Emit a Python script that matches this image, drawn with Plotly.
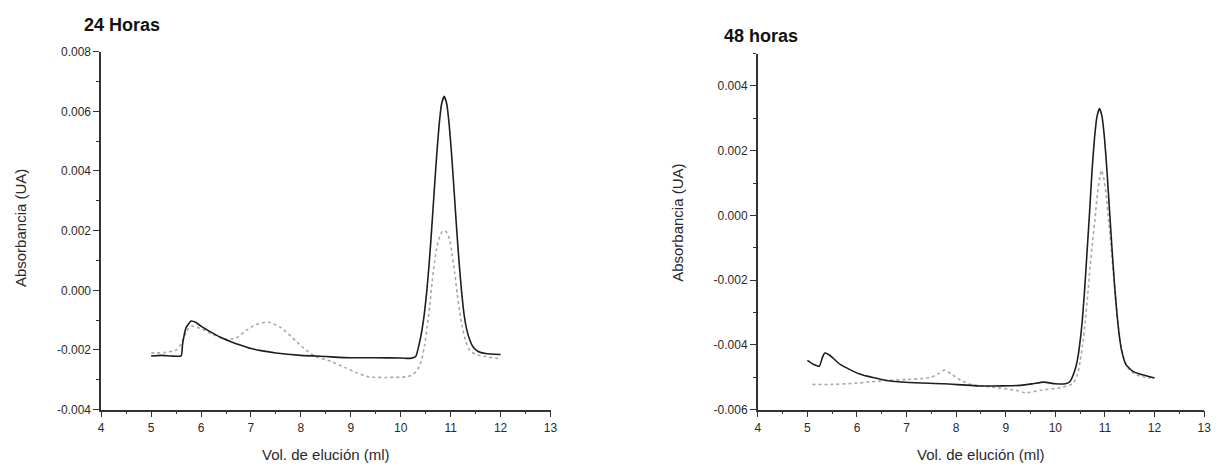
import plotly.graph_objects as go

# ---------------- data: 24 horas ----------------
x24_solid = [5.0, 5.2, 5.4, 5.6, 5.63, 5.7, 5.8, 5.9, 6.0, 6.2, 6.4, 6.6, 6.8, 7.0, 7.2, 7.5, 8.0,
             8.5, 9.0, 9.5, 10.0, 10.2, 10.3, 10.37, 10.42, 10.47, 10.52, 10.57, 10.62, 10.67, 10.72,
             10.77, 10.82, 10.87, 10.92, 10.97, 11.02, 11.07, 11.12, 11.17, 11.22, 11.27, 11.32,
             11.38, 11.45, 11.55, 11.7, 12.0]
y24_solid = [-0.00220, -0.00218, -0.00220, -0.00220, -0.00180, -0.00125, -0.00103, -0.00108, -0.00120,
             -0.00140, -0.00158, -0.00172, -0.00184, -0.00195, -0.00202, -0.00210, -0.00218,
             -0.00222, -0.00226, -0.00226, -0.00227, -0.00228, -0.00222, -0.00180, -0.00138, -0.00082,
             -0.00006, 0.00091, 0.00206, 0.00331, 0.00453, 0.00556, 0.00626, 0.00650, 0.00626,
             0.00556, 0.00453, 0.00331, 0.00206, 0.00091, -0.00006, -0.00082, -0.00130, -0.00165,
             -0.00190, -0.00205, -0.00212, -0.00215]

x24_dot = [5.0, 5.3, 5.5, 5.6, 5.7, 5.8, 6.0, 6.2, 6.5, 6.7, 6.9, 7.1, 7.35, 7.6, 7.9, 8.1, 8.3, 8.6,
           8.9, 9.1, 9.35, 9.7, 10.1, 10.25, 10.35, 10.42, 10.48, 10.53, 10.58, 10.63, 10.68, 10.73,
           10.78, 10.83, 10.88, 10.93, 10.98, 11.03, 11.08, 11.13, 11.18, 11.23, 11.3, 11.38, 11.5,
           11.7, 12.0]
y24_dot = [-0.00210, -0.00208, -0.00200, -0.00180, -0.00140, -0.00120, -0.00128, -0.00145, -0.00165,
           -0.00160, -0.00135, -0.00115, -0.00107, -0.00125, -0.00170, -0.00200, -0.00222, -0.00238,
           -0.00260, -0.00275, -0.00290, -0.00292, -0.00290, -0.00282, -0.00262, -0.00232, -0.00182,
           -0.00122, -0.00052, 0.00030, 0.00100, 0.00150, 0.00180, 0.00197, 0.00200, 0.00192,
           0.00170, 0.00120, 0.00060, -0.00010, -0.00070, -0.00120, -0.00170, -0.00200, -0.00215,
           -0.00222, -0.00230]

# ---------------- data: 48 horas ----------------
x48_solid = [5.0, 5.12, 5.24, 5.3, 5.35, 5.45, 5.66, 6.05, 6.6, 7.05, 7.75, 8.52, 9.3, 9.55, 9.76,
             10.0, 10.2, 10.3, 10.39, 10.44, 10.49, 10.54, 10.59, 10.64, 10.69, 10.74, 10.79, 10.84,
             10.89, 10.94, 10.99, 11.04, 11.09, 11.14, 11.19, 11.24, 11.29, 11.34, 11.42, 11.55,
             11.7, 12.0]
y48_solid = [-0.00448, -0.00460, -0.00466, -0.00440, -0.00425, -0.00432, -0.00460, -0.00490, -0.00510,
             -0.00516, -0.00520, -0.00527, -0.00525, -0.00520, -0.00515, -0.00520, -0.00520, -0.00512,
             -0.00480, -0.00450, -0.00400, -0.00330, -0.00230, -0.00110, 0.00010, 0.00140, 0.00240,
             0.00306, 0.00330, 0.00306, 0.00240, 0.00140, 0.00020, -0.00097, -0.00207, -0.00300,
             -0.00373, -0.00420, -0.00460, -0.00480, -0.00490, -0.00502]

x48_dot = [5.1, 5.5, 6.0, 6.3, 6.6, 7.0, 7.3, 7.5, 7.65, 7.77, 7.9, 8.1, 8.3, 8.7, 9.2, 9.4, 9.7,
           10.1, 10.35, 10.45, 10.5, 10.55, 10.6, 10.65, 10.7, 10.75, 10.8, 10.85, 10.9, 10.93, 10.97,
           11.02, 11.07, 11.12, 11.17, 11.22, 11.27, 11.32, 11.38, 11.46, 11.6, 11.8, 12.0]
y48_dot = [-0.00522, -0.00522, -0.00518, -0.00514, -0.00510, -0.00507, -0.00504, -0.00500, -0.00488,
           -0.00478, -0.00490, -0.00510, -0.00522, -0.00530, -0.00540, -0.00548, -0.00540, -0.00532,
           -0.00520, -0.00490, -0.00450, -0.00400, -0.00330, -0.00250, -0.00160, -0.00080, -0.00010,
           0.00070, 0.00120, 0.00140, 0.00120, 0.00070, -0.00010, -0.00090, -0.00180, -0.00270,
           -0.00340, -0.00400, -0.00440, -0.00470, -0.00490, -0.00500, -0.00502]

x_ticks = [4, 5, 6, 7, 8, 9, 10, 11, 12, 13]
y24_ticks = [-0.004, -0.002, 0.000, 0.002, 0.004, 0.006, 0.008]
y48_ticks = [-0.006, -0.004, -0.002, 0.000, 0.002, 0.004]
titles = ["24 Horas", "48 horas"]
x_title = "Vol. de elución (ml)"
y_title = "Absorbancia (UA)"

W, H = 1228, 471
FONT = "Liberation Sans, Arial, sans-serif"
TXT = "#2a2a2a"
SOLID = "#1e1e1e"
DOT = "#a8a8a8"


def px_x(p):
    return p / W


def px_y(p):
    return 1 - p / H


fig = go.Figure()

fig.add_trace(go.Scatter(x=x24_dot, y=y24_dot, mode="lines", line=dict(color=DOT, width=1.6, dash="dot", shape="spline", smoothing=0.6),
                         xaxis="x", yaxis="y", showlegend=False))
fig.add_trace(go.Scatter(x=x24_solid, y=y24_solid, mode="lines", line=dict(color=SOLID, width=1.6, shape="spline", smoothing=0.5),
                         xaxis="x", yaxis="y", showlegend=False))
fig.add_trace(go.Scatter(x=x48_dot, y=y48_dot, mode="lines", line=dict(color=DOT, width=1.6, dash="dot", shape="spline", smoothing=0.6),
                         xaxis="x2", yaxis="y2", showlegend=False))
fig.add_trace(go.Scatter(x=x48_solid, y=y48_solid, mode="lines", line=dict(color=SOLID, width=1.6, shape="spline", smoothing=0.5),
                         xaxis="x2", yaxis="y2", showlegend=False))


def fmt(v):
    return f"{v:.3f}".replace("\u2212", "-")


axis_common = dict(showline=True, linecolor="#333", linewidth=1.5, ticks="outside", ticklen=6,
                   tickwidth=1.3, tickcolor="#333", showgrid=False, zeroline=False,
                   tickfont=dict(family=FONT, size=12, color=TXT))

fig.update_layout(
    width=W, height=H, margin=dict(l=0, r=0, t=0, b=0),
    paper_bgcolor="white", plot_bgcolor="white",
    xaxis=dict(domain=[px_x(99), px_x(552)], range=[4, 13], anchor="y", tickvals=x_ticks,
               ticktext=[str(t) for t in x_ticks],
               minor=dict(dtick=0.5, tick0=4, ticks="outside", ticklen=3, tickcolor="#333"), **axis_common),
    yaxis=dict(domain=[px_y(415), px_y(46)], range=[-0.004, 0.008], anchor="x", tickvals=y24_ticks,
               ticktext=[fmt(t) for t in y24_ticks],
               minor=dict(dtick=0.001, tick0=0, ticks="outside", ticklen=3, tickcolor="#333"), **axis_common),
    xaxis2=dict(domain=[px_x(761), px_x(1211)], range=[4, 13], anchor="y2", tickvals=x_ticks,
                ticktext=[str(t) for t in x_ticks],
                minor=dict(dtick=0.5, tick0=4, ticks="outside", ticklen=3, tickcolor="#333"), **axis_common),
    yaxis2=dict(domain=[px_y(415), px_y(48)], range=[-0.006, 0.005], anchor="x2", tickvals=y48_ticks,
                ticktext=[fmt(t) for t in y48_ticks],
                minor=dict(dtick=0.001, tick0=0, ticks="outside", ticklen=3, tickcolor="#333"), **axis_common),
)

ann = []
ann.append(dict(text=f"<b>{titles[0]}</b>", x=px_x(80), y=px_y(19), xref="paper", yref="paper",
                xanchor="left", yanchor="middle", showarrow=False, font=dict(family=FONT, size=18, color="#111")))
ann.append(dict(text=f"<b>{titles[1]}</b>", x=px_x(725), y=px_y(30), xref="paper", yref="paper",
                xanchor="left", yanchor="middle", showarrow=False, font=dict(family=FONT, size=18, color="#111")))
for cx in [325.5, 986]:
    ann.append(dict(text=x_title, x=px_x(cx), y=px_y(461), xref="paper", yref="paper",
                    xanchor="center", yanchor="middle", showarrow=False, font=dict(family=FONT, size=15, color=TXT)))
for cx, cy in [(17, 228), (680, 222)]:
    ann.append(dict(text=y_title, x=px_x(cx), y=px_y(cy), xref="paper", yref="paper", textangle=-90,
                    xanchor="center", yanchor="middle", showarrow=False, font=dict(family=FONT, size=15, color=TXT)))
fig.update_layout(annotations=ann)

fig.write_html("out.html")
